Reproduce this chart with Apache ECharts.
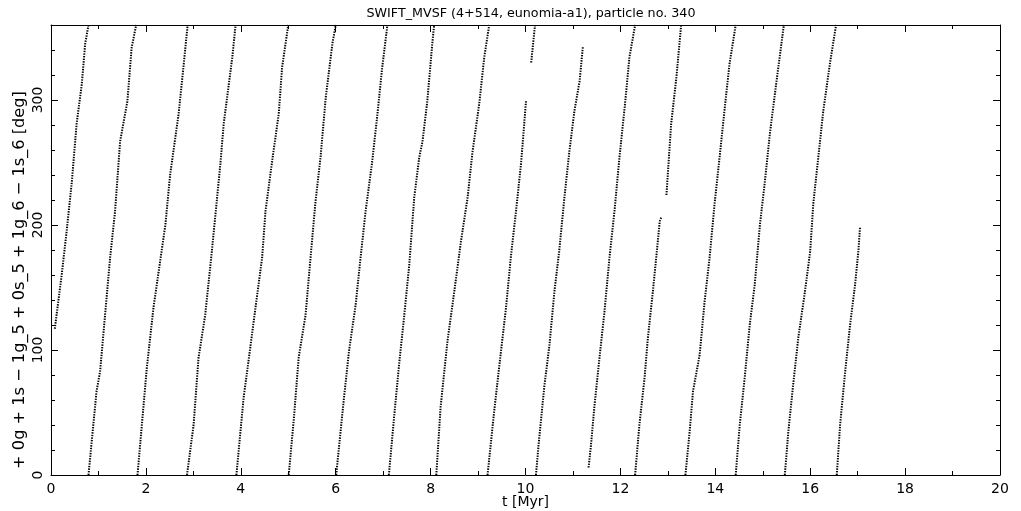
<!DOCTYPE html>
<html>
<head>
<meta charset="utf-8">
<script src="https://cdn.jsdelivr.net/npm/echarts@6/dist/echarts.min.js"></script>
<style>html,body{margin:0;padding:0;background:#fff;}#c{width:1021px;height:511px;}</style>
</head>
<body>
<div id="c"></div>
<script>
// Resonant angle [deg] vs time [Myr], points read along each stripe of the reference
const stripe00 = [[0.08,117],[0.225,160],[0.33,195],[0.44,235],[0.54,281],[0.65,313],[0.72,345],[0.79,360]];
const stripe01 = [[0.79,0],[0.96,67],[1.035,83],[1.246,174],[1.35,211],[1.457,267],[1.61,299],[1.70,342],[1.795,360]];
const stripe02 = [[1.823,0],[2.02,86],[2.16,134],[2.41,200],[2.51,240],[2.69,289],[2.79,326],[2.88,360]];
const stripe03 = [[2.866,0],[3.005,40],[3.11,94],[3.25,128],[3.39,179],[3.57,249],[3.64,281],[3.82,334],[3.89,360]];
const stripe04 = [[3.907,0],[4.06,62],[4.20,102],[4.31,134],[4.45,174],[4.52,211],[4.66,251],[4.80,289],[4.87,326],[5.0,360]];
const stripe05 = [[5.01,0],[5.12,46],[5.22,94],[5.365,128],[5.47,174],[5.575,219],[5.68,254],[5.79,302],[5.93,345],[6.0,360]];
const stripe06 = [[6.01,0],[6.175,62],[6.28,99],[6.42,136],[6.53,176],[6.63,211],[6.77,251],[6.88,289],[6.98,326],[7.09,360]];
const stripe07 = [[7.12,0],[7.23,46],[7.335,88],[7.44,126],[7.55,168],[7.655,222],[7.76,254],[7.83,267],[7.93,299],[8.04,347],[8.075,360]];
const stripe08 = [[8.12,0],[8.21,54],[8.355,107],[8.50,147],[8.64,187],[8.78,222],[8.885,259],[9.025,297],[9.13,334],[9.235,360]];
const stripe09 = [[9.20,0],[9.34,51],[9.45,88],[9.59,134],[9.69,174],[9.80,211],[9.905,249],[9.94,265],[10.01,299]];
const stripe09b = [[10.12,330],[10.20,360]];
const stripe10 = [[10.22,0],[10.29,30],[10.40,72],[10.505,104],[10.61,147],[10.71,179],[10.82,222],[10.925,259],[11.03,291],[11.14,315],[11.21,343]];
const stripe11 = [[11.33,6],[11.38,24],[11.455,56],[11.56,94],[11.665,131],[11.77,174],[11.875,211],[11.98,254],[12.09,294],[12.19,334],[12.31,360]];
const stripe12 = [[12.31,0],[12.40,40],[12.51,78],[12.58,110],[12.685,147],[12.755,174],[12.83,203],[12.86,206]];
const stripe12b = [[12.97,224],[13.07,281],[13.18,318],[13.28,360]];
const stripe13 = [[13.37,0],[13.46,35],[13.53,67],[13.67,96],[13.775,139],[13.88,174],[13.985,217],[14.09,254],[14.20,294],[14.30,329],[14.43,360]];
const stripe14 = [[14.43,0],[14.515,40],[14.62,78],[14.725,120],[14.83,152],[14.94,200],[15.04,233],[15.15,273],[15.29,315],[15.445,360]];
const stripe15 = [[15.465,0],[15.54,35],[15.64,72],[15.75,110],[15.89,147],[16.0,179],[16.065,217],[16.17,254],[16.275,291],[16.415,329],[16.545,360]];
const stripe16 = [[16.56,0],[16.63,40],[16.73,80],[16.84,120],[16.945,152],[17.015,179],[17.05,198]];

const stripes = [stripe00, stripe01, stripe02, stripe03, stripe04, stripe05, stripe06, stripe07, stripe08,
  stripe09, stripe09b, stripe10, stripe11, stripe12, stripe12b, stripe13, stripe14, stripe15, stripe16];

const xTicks = [0, 2, 4, 6, 8, 10, 12, 14, 16, 18, 20];
const yTicks = [0, 100, 200, 300];

const titleText = 'SWIFT_MVSF (4+514, eunomia-a1), particle no. 340';
const xName = 't [Myr]';
const yName = '+ 0g + 1s \u2212 1g_5 + 0s_5 + 1g_6 \u2212 1s_6 [deg]';

const FONT = 'DejaVu Sans';
const chart = echarts.init(document.getElementById('c'), null, {renderer: 'canvas'});

const grid = {left: 51, right: 21, top: 25, bottom: 36, containLabel: false, outerBoundsMode: 'none'};

function xAx(pos, labels) {
  return {
    type: 'value', position: pos, min: xTicks[0], max: xTicks[xTicks.length - 1], interval: 2,
    axisLine: {show: true, onZero: false, lineStyle: {color: '#000', width: 1}},
    axisTick: {show: true, inside: true, length: 7, lineStyle: {color: '#000'}},
    minorTick: {show: true, splitNumber: 2, length: 4, lineStyle: {color: '#000'}},
    splitLine: {show: false}, minorSplitLine: {show: false},
    axisLabel: {show: labels, color: '#000', fontFamily: FONT, fontSize: 14, margin: 7},
    name: labels ? xName : '', nameLocation: 'middle', nameGap: 20, nameMoveOverlap: false,
    nameTextStyle: {color: '#000', fontFamily: FONT, fontSize: 14, verticalAlign: 'top'}
  };
}
function yAx(pos, interval, len, labels, line) {
  return {
    type: 'value', position: pos, min: 0, max: 360, interval: interval,
    axisLine: {show: line, onZero: false, lineStyle: {color: '#000', width: 1}},
    axisTick: {show: true, inside: true, length: len, lineStyle: {color: '#000'}},
    splitLine: {show: false},
    axisLabel: {show: labels, color: '#000', fontFamily: FONT, fontSize: 14, rotate: 90, margin: 6,
      showMaxLabel: false,
      formatter: function (v) { return yTicks.indexOf(v) >= 0 ? String(v) : ''; }},
    name: labels ? yName : '', nameLocation: 'middle', nameGap: 23, nameMoveOverlap: false,
    nameTextStyle: {color: '#000', fontFamily: FONT, fontSize: 16.2, padding: [0, 60, 0, 0]}
  };
}

chart.setOption({
  animation: false,
  backgroundColor: '#fff',
  title: {text: titleText, left: 526, top: 2, textAlign: 'center',
    textStyle: {color: '#000', fontFamily: FONT, fontSize: 12.7, fontWeight: 'normal'}},
  grid: grid,
  xAxis: [xAx('bottom', true), xAx('top', false)],
  yAxis: [yAx('left', 100, 7, true, true), yAx('left', 20, 4, false, false),
          yAx('right', 100, 7, false, true), yAx('right', 20, 4, false, false)],
  series: stripes.map(function (s) {
    return {
      type: 'line', xAxisIndex: 0, yAxisIndex: 0, data: s, showSymbol: false, silent: true,
      lineStyle: {color: '#000', width: 2, type: [1.4, 1.2]}
    };
  })
});
</script>
</body>
</html>
